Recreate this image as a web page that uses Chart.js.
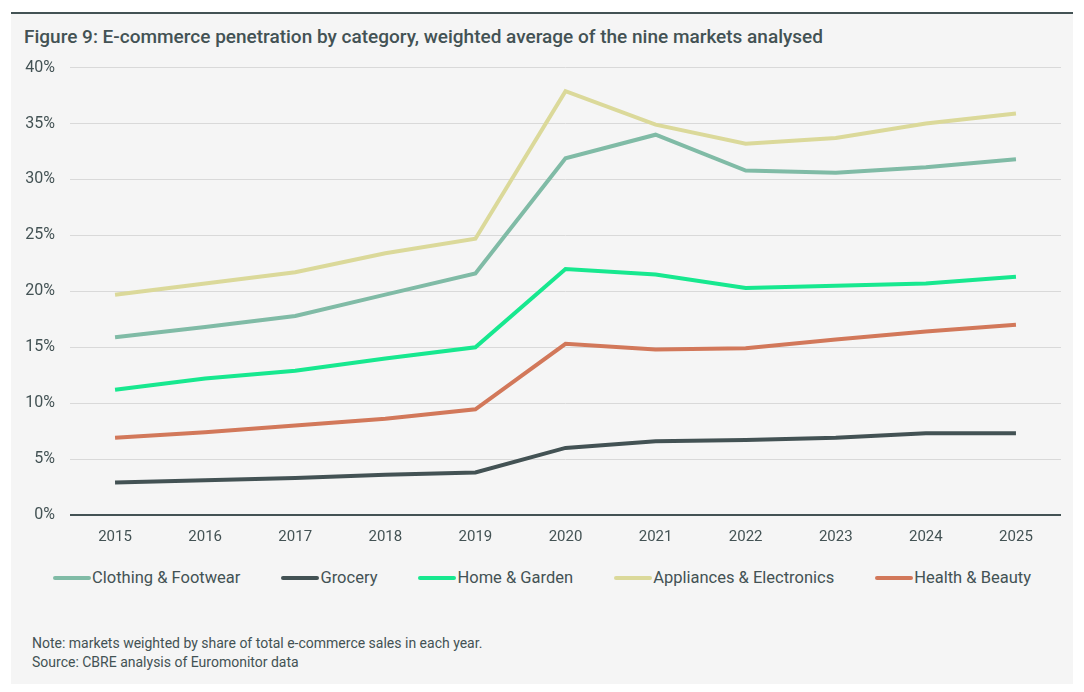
<!DOCTYPE html>
<html>
<head>
<meta charset="utf-8">
<script src="https://cdn.jsdelivr.net/npm/chart.js@4"></script>
<style>
  html, body { margin: 0; padding: 0; background: #ffffff; }
  body { width: 1084px; height: 692px; position: relative; overflow: hidden; font-family: Roboto, sans-serif; }
  #panel { position: absolute; left: 11px; top: 12px; width: 1062px; height: 670px; background: #f5f5f5; border-top: 2px solid #435254; }
  #title { position: absolute; left: 13px; top: 11px; font-size: 19px; font-weight: 500; color: #435254; white-space: nowrap; }
  #wrap { position: absolute; left: 0; top: 29px; width: 1062px; height: 516px; }
  #legend { position: absolute; left: 0; top: 554px; width: 1062px; display: flex; justify-content: center; align-items: center; gap: 41px; font-size: 16.5px; color: #435254; }
  #legend .item { display: flex; align-items: center; white-space: nowrap; }
  #legend .swatch { width: 38px; height: 4px; border-radius: 2px; margin-right: 1px; }
  #notes { position: absolute; left: 21px; top: 620px; font-size: 14px; line-height: 19px; color: #435254; }
</style>
</head>
<body>
<div id="panel">
  <div id="title">Figure 9: E-commerce penetration by category, weighted average of the nine markets analysed</div>
  <div id="wrap"><canvas id="myChart"></canvas></div>
  <div id="legend"></div>
  <div id="notes">Note: markets weighted by share of total e-commerce sales in each year.<br>Source: CBRE analysis of Euromonitor data</div>
</div>
<script>
const years = ['2015', '2016', '2017', '2018', '2019', '2020', '2021', '2022', '2023', '2024', '2025'];
const clothing = [15.9, 16.8, 17.8, 19.7, 21.6, 31.9, 34.0, 30.8, 30.6, 31.1, 31.8];
const grocery = [2.9, 3.1, 3.3, 3.6, 3.8, 6.0, 6.6, 6.7, 6.9, 7.3, 7.3];
const homeGarden = [11.2, 12.2, 12.9, 14.0, 15.0, 22.0, 21.5, 20.3, 20.5, 20.7, 21.3];
const appliances = [19.7, 20.7, 21.7, 23.4, 24.7, 37.9, 34.9, 33.2, 33.7, 35.0, 35.9];
const health = [6.9, 7.4, 8.0, 8.6, 9.45, 15.3, 14.8, 14.9, 15.7, 16.4, 17.0];

const textColor = '#435254';

function line(label, data, color) {
  return {
    label: label,
    data: data,
    borderColor: color,
    backgroundColor: color,
    borderWidth: 4,
    pointRadius: 0,
    tension: 0,
  };
}

const ctx = document.getElementById('myChart').getContext('2d');
const myChart = new Chart(ctx, {
  type: 'line',
  data: {
    labels: years,
    datasets: [
      line('Clothing & Footwear', clothing, '#80bba6'),
      line('Grocery', grocery, '#435254'),
      line('Home & Garden', homeGarden, '#17e88f'),
      line('Appliances & Electronics', appliances, '#dbd99a'),
      line('Health & Beauty', health, '#d2785a'),
    ],
  },
  options: {
    responsive: true,
    maintainAspectRatio: false,
    animation: false,
    layout: {
      padding: { top: 11, right: 12, left: 0, bottom: 0 },
    },
    plugins: {
      legend: { display: false },
      tooltip: { enabled: false },
    },
    scales: {
      x: {
        offset: true,
        grid: { display: false, drawTicks: false },
        border: { display: false },
        ticks: {
          color: textColor,
          padding: 13,
          font: { family: 'Roboto', size: 15 },
        },
      },
      y: {
        min: 0,
        max: 40,
        afterFit: function (scale) {
          scale.width = 59;
        },
        grid: {
          drawTicks: false,
          color: function (c) {
            return c.tick.value === 0 ? '#435254' : '#d9d9d9';
          },
          lineWidth: function (c) {
            return c.tick.value === 0 ? 2 : 1;
          },
        },
        border: { display: false },
        ticks: {
          stepSize: 5,
          color: textColor,
          padding: 15,
          font: { family: 'Roboto', size: 16 },
          callback: function (value) {
            return value + '%';
          },
        },
      },
    },
  },
});

// html legend built from the chart's datasets
const legendEl = document.getElementById('legend');
myChart.data.datasets.forEach(function (ds) {
  const item = document.createElement('div');
  item.className = 'item';
  const sw = document.createElement('span');
  sw.className = 'swatch';
  sw.style.background = ds.borderColor;
  const txt = document.createElement('span');
  txt.textContent = ds.label;
  item.appendChild(sw);
  item.appendChild(txt);
  legendEl.appendChild(item);
});
</script>
</body>
</html>
